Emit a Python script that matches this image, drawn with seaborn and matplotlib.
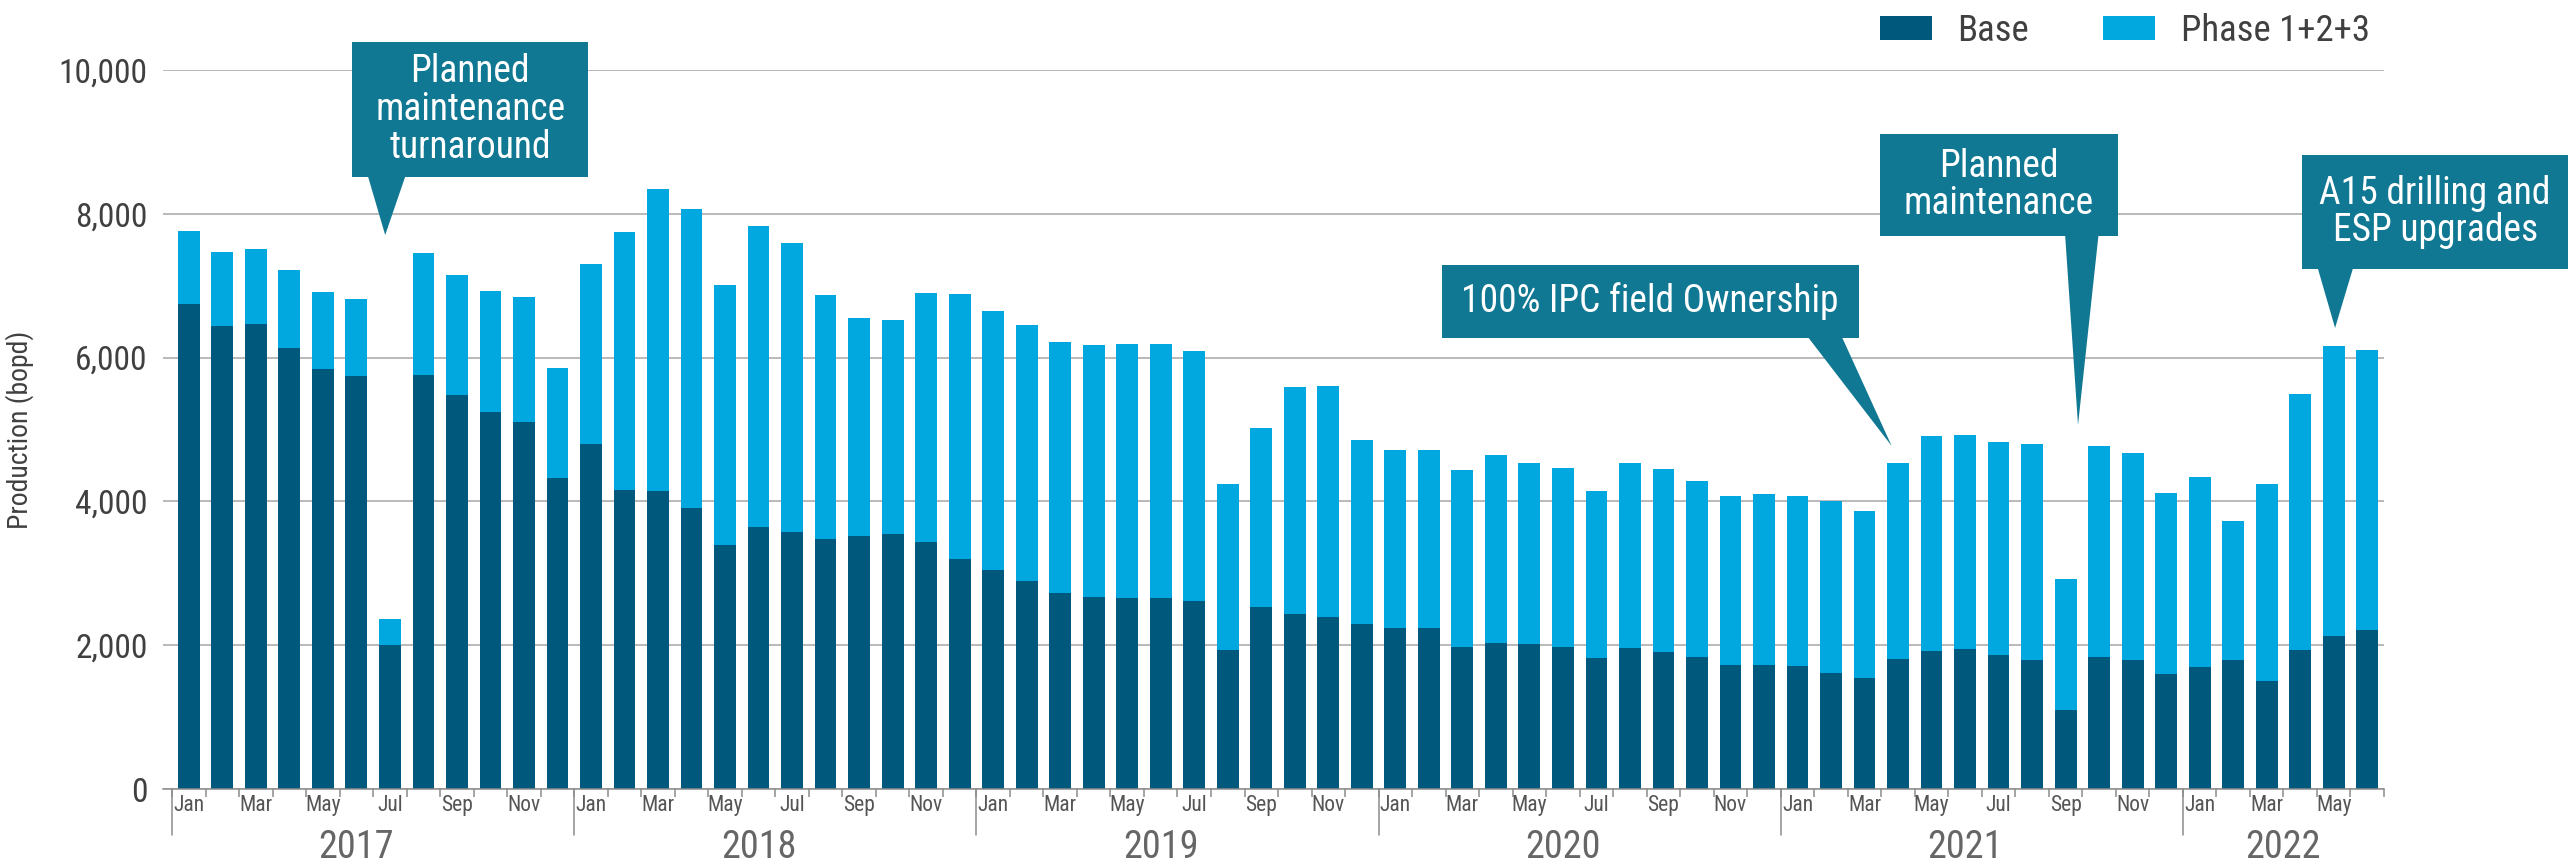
import matplotlib
matplotlib.use('Agg')
import matplotlib.pyplot as plt
import matplotlib.transforms as mtransforms
from matplotlib import font_manager
from matplotlib.patches import Polygon, Rectangle, Patch
import numpy as np
import pandas as pd
import seaborn as sns

# Monthly production, Jan 2017 - Jun 2022 (bopd)
years = [2017, 2018, 2019, 2020, 2021, 2022]
months = ['Jan', 'Feb', 'Mar', 'Apr', 'May', 'Jun',
          'Jul', 'Aug', 'Sep', 'Oct', 'Nov', 'Dec']
base = [6750, 6440, 6470, 6140, 5840, 5750, 2000, 5760, 5480, 5240, 5100, 4330,
        4800, 4160, 4150, 3910, 3390, 3650, 3580, 3480, 3520, 3540, 3440, 3200,
        3050, 2890, 2730, 2670, 2660, 2660, 2620, 1930, 2530, 2430, 2390, 2300,
        2240, 2240, 1980, 2030, 2020, 1970, 1820, 1960, 1900, 1830, 1730, 1720,
        1710, 1620, 1540, 1810, 1920, 1950, 1870, 1800, 1100, 1830, 1790, 1600,
        1690, 1790, 1500, 1930, 2130, 2210]
total = [7760, 7470, 7510, 7220, 6910, 6820, 2360, 7450, 7150, 6920, 6840, 5850,
         7300, 7740, 8350, 8060, 7010, 7830, 7600, 6870, 6550, 6520, 6900, 6880,
         6650, 6450, 6220, 6180, 6190, 6190, 6090, 4240, 5020, 5590, 5610, 4860,
         4720, 4710, 4430, 4650, 4540, 4460, 4140, 4540, 4450, 4280, 4080, 4100,
         4080, 4010, 3870, 4530, 4910, 4930, 4830, 4800, 2920, 4770, 4670, 4110,
         4340, 3730, 4240, 5500, 6155, 6100]
series_names = ['Base', 'Phase 1+2+3']
yticks = [0, 2000, 4000, 6000, 8000, 10000]

callouts = [
    # text, box (x0, x1, y0, y1), pointer base (x0, x1), tip (x, y)
    ('Planned\nmaintenance\nturnaround', (4.87, 11.92, 8512, 10389), (5.32, 6.49), (5.86, 7705)),
    ('100% IPC field Ownership', (37.38, 49.83, 6273, 7288), (48.25, 49.29), (50.81, 4771)),
    ('Planned\nmaintenance', (50.46, 57.56, 7691, 9110), (55.98, 56.99), (56.37, 5063)),
    ('A15 drilling and\nESP upgrades', (63.05, 71.0, 7232, 8818), (63.5, 64.6), (64.04, 6412)),
]

dark_blue = '#00587c'
light_blue = '#00a8df'
teal = '#117893'

sns.set_theme(style='white')

# pick a condensed face if one is installed
font_name, font_stretch = 'Roboto', 'normal'
wanted = ['RobotoCondensed-Regular', 'LiberationSansNarrow-Regular', 'DejaVuSansCondensed.ttf']
for w in wanted:
    hits = [f for f in font_manager.fontManager.ttflist if w in f.fname]
    if hits:
        font_name, font_stretch = hits[0].name, hits[0].stretch
        break
plt.rcParams['font.family'] = [font_name, 'DejaVu Sans']
plt.rcParams['font.stretch'] = font_stretch

n = len(base)
labels = [f'{months[i % 12]} {years[i // 12]}' for i in range(n)]
df = pd.DataFrame({'period': labels, 'base': base, 'total': total})

fig = plt.figure(figsize=(25.68, 8.65), dpi=100)
ax = fig.add_axes([163 / 2568, 1 - 789 / 865, (2384 - 163) / 2568, 719 / 865])

sns.barplot(data=df, x='period', y='total', color=light_blue, saturation=1,
            width=0.65, ax=ax, linewidth=0)
sns.barplot(data=df, x='period', y='base', color=dark_blue, saturation=1,
            width=0.65, ax=ax, linewidth=0)

ax.set_xlim(-0.77, n - 0.5)
ax.set_ylim(0, 10000)

# y axis
ax.set_yticks(yticks)
ax.set_yticklabels([f'{v:,}' for v in yticks])
ax.tick_params(axis='y', length=0, pad=11, labelsize=24, labelcolor='#404040')
ax.yaxis.grid(True, color='#a6a6a6', lw=1.1)
ax.set_axisbelow(True)
ax.set_ylabel('Production (bopd)', fontsize=20, color='#404040')
ax.yaxis.set_label_coords(-0.058, 0.5)
ax.set_xlabel('')

for s in ['left', 'top', 'right']:
    ax.spines[s].set_visible(False)
ax.spines['bottom'].set_color('#8c8c8c')
ax.spines['bottom'].set_linewidth(1.1)

# x axis: ticks between bars, labels on every other month
ax.set_xticks(np.arange(n + 1) - 0.5)
ax.set_xticklabels([])
ax.tick_params(axis='x', which='major', length=5.8, width=1.1, color='#8c8c8c', bottom=True)
lab_idx = list(range(0, n, 2))
ax.set_xticks(lab_idx, minor=True)
ax.set_xticklabels([months[i % 12] for i in lab_idx], minor=True)
ax.tick_params(axis='x', which='minor', length=0, pad=4, labelsize=15.5, labelcolor='#555555')

trans = mtransforms.blended_transform_factory(ax.transData, ax.transAxes)
for k, yr in enumerate(years):
    start = 12 * k
    count = min(12, n - start)
    ax.plot([start - 0.5, start - 0.5], [0, -0.064], transform=trans,
            color='#8c8c8c', lw=1.1, clip_on=False)
    xpos = start + 5 if count == 12 else start + (count - 1) / 2
    ax.text(xpos, -0.096, str(yr), transform=trans, ha='center', va='baseline',
            fontsize=27.5, color='#666666')

# callouts
for text, (x0, x1, y0, y1), (bx0, bx1), (tx, ty) in callouts:
    ax.add_patch(Rectangle((x0, y0), x1 - x0, y1 - y0, facecolor=teal,
                           edgecolor='none', clip_on=False, zorder=5))
    ax.add_patch(Polygon([(bx0, y0 + 50), (bx1, y0 + 50), (tx, ty)], closed=True,
                         facecolor=teal, edgecolor='none', clip_on=False, zorder=5))
    ax.text((x0 + x1) / 2, (y0 + y1) / 2, text, ha='center', va='center',
            color='white', fontsize=27, linespacing=1.02, zorder=6, clip_on=False)

handles = [Patch(facecolor=dark_blue, edgecolor='none'),
           Patch(facecolor=light_blue, edgecolor='none')]
fig.legend(handles, series_names, loc='center right',
           bbox_to_anchor=(2370 / 2568, 1 - 31 / 865), ncol=2, frameon=False,
           fontsize=26.5, handlelength=1.42, handleheight=0.6, handletextpad=0.7,
           columnspacing=2.0, borderpad=0, borderaxespad=0, labelcolor='#404040')

fig.savefig('out.png', dpi=100)
